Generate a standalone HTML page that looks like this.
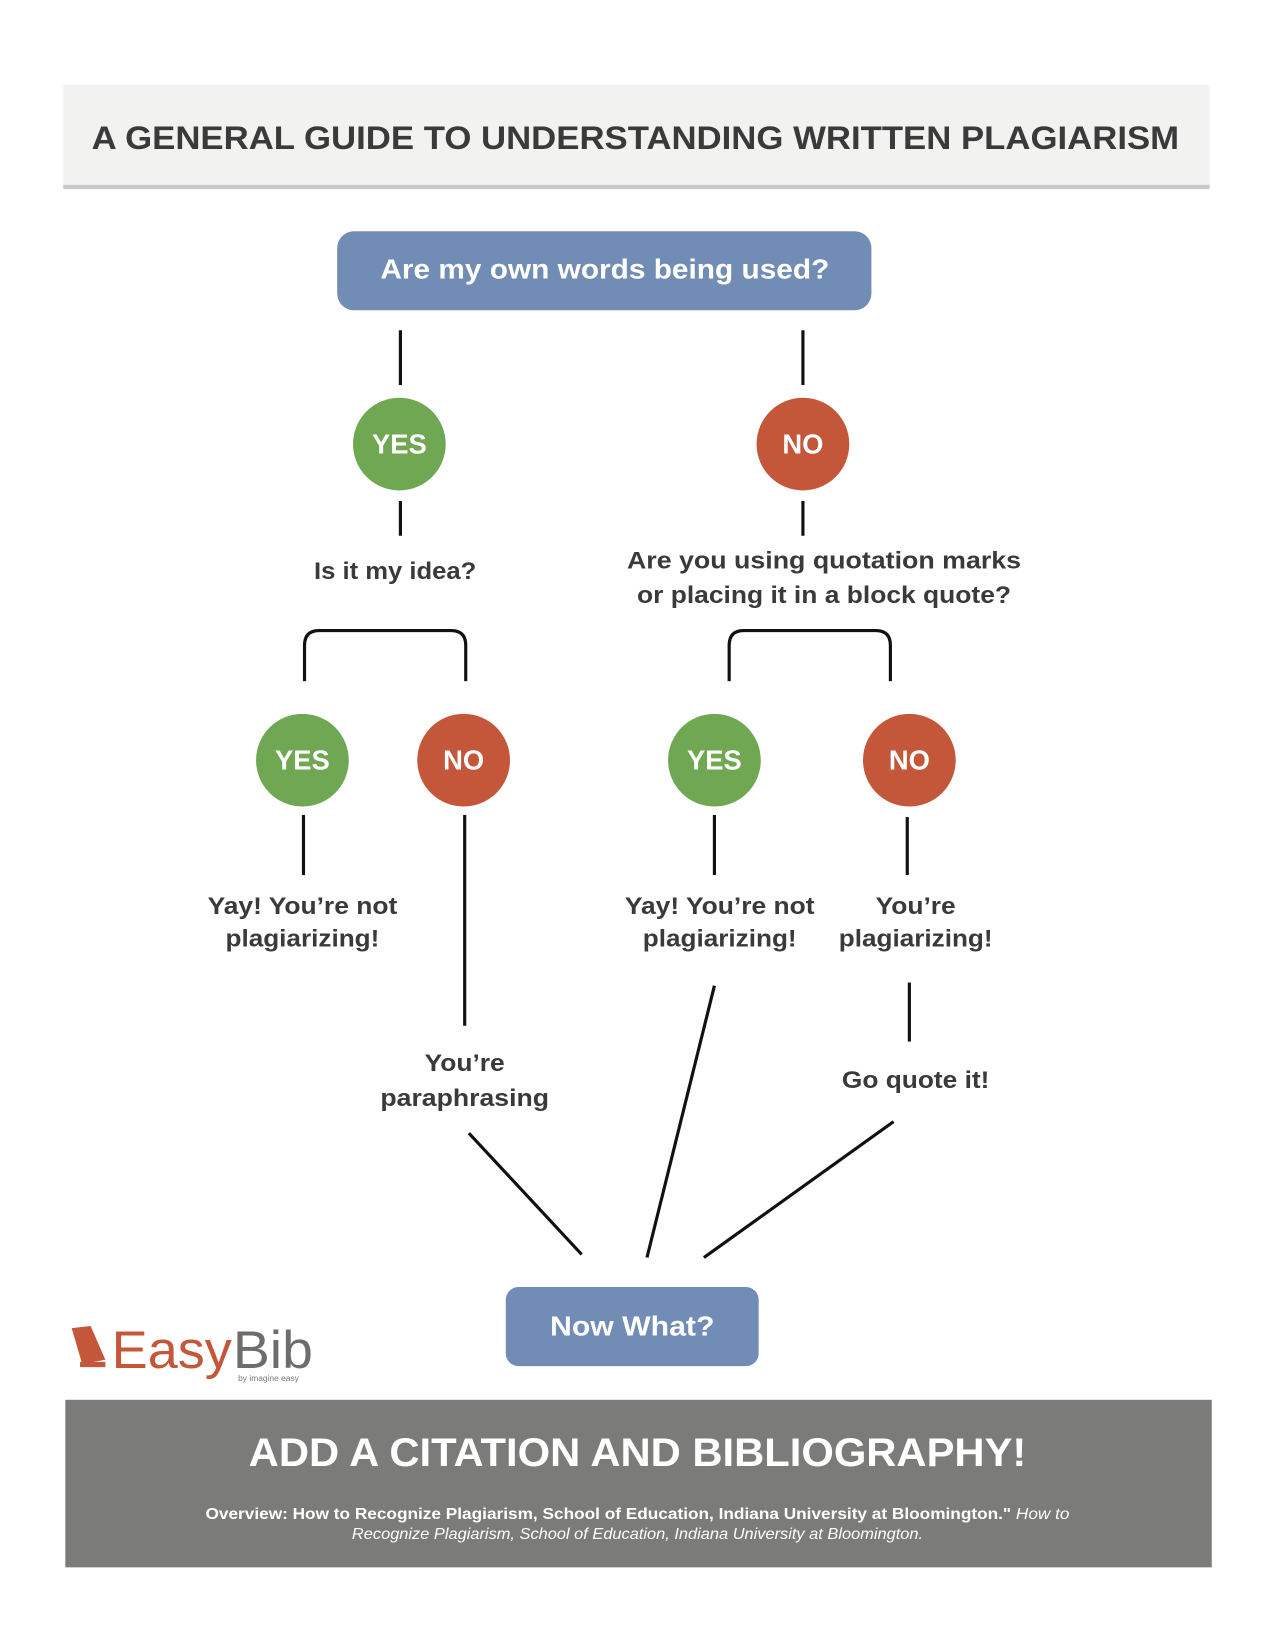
<!DOCTYPE html>
<html><head><meta charset="utf-8"><style>
html,body{margin:0;padding:0;background:#fff;}
svg{display:block;}
text{font-family:"Liberation Sans",sans-serif;font-weight:bold;}
</style></head><body>
<svg width="1275" height="1650" viewBox="0 0 1210 1565" xmlns="http://www.w3.org/2000/svg">
<rect x="60" y="80" width="1088" height="96" fill="#f2f2f0"/>
<rect x="60" y="175" width="1088" height="4" fill="#c8c8c8"/>
<text x="603" y="141" font-size="31" fill="#3a3a3a" text-anchor="middle" textLength="1032" lengthAdjust="spacingAndGlyphs">A GENERAL GUIDE TO UNDERSTANDING WRITTEN PLAGIARISM</text>

<rect x="320" y="219" width="507" height="75" rx="16" fill="#728db5"/>
<text x="574" y="264" font-size="26" fill="#fff" text-anchor="middle" textLength="426" lengthAdjust="spacingAndGlyphs">Are my own words being used?</text>

<g stroke="#111" stroke-width="3" fill="none">
<line x1="380" y1="313" x2="380" y2="365"/>
<line x1="762" y1="313" x2="762" y2="365"/>
<line x1="380" y1="475" x2="380" y2="508"/>
<line x1="762" y1="475" x2="762" y2="508"/>
<path d="M289 646 V612 Q289 598 303 598 H428 Q442 598 442 612 V646"/>
<path d="M692 646 V612 Q692 598 706 598 H831 Q845 598 845 612 V646"/>
<line x1="288" y1="773" x2="288" y2="830"/>
<line x1="441" y1="773" x2="441" y2="973"/>
<line x1="678" y1="773" x2="678" y2="830"/>
<line x1="861" y1="775" x2="861" y2="830"/>
<line x1="863" y1="932" x2="863" y2="988"/>
<line x1="445" y1="1075" x2="552" y2="1190"/>
<line x1="678" y1="935" x2="614" y2="1193"/>
<line x1="848" y1="1064" x2="668" y2="1193"/>
</g>

<g font-size="26" fill="#fff" text-anchor="middle">
<circle cx="379" cy="421" r="44" fill="#6fa752"/><text x="379" y="430">YES</text>
<circle cx="762" cy="421" r="44" fill="#c4573a"/><text x="762" y="430">NO</text>
<circle cx="287" cy="721" r="44" fill="#6fa752"/><text x="287" y="730">YES</text>
<circle cx="440" cy="721" r="44" fill="#c4573a"/><text x="440" y="730">NO</text>
<circle cx="678" cy="721" r="44" fill="#6fa752"/><text x="678" y="730">YES</text>
<circle cx="863" cy="721" r="44" fill="#c4573a"/><text x="863" y="730">NO</text>
</g>

<g font-size="23" fill="#3a3a3a" text-anchor="middle">
<text x="375" y="549" textLength="154" lengthAdjust="spacingAndGlyphs">Is it my idea?</text>
<text x="782" y="539" textLength="374" lengthAdjust="spacingAndGlyphs">Are you using quotation marks</text>
<text x="782" y="572" textLength="355" lengthAdjust="spacingAndGlyphs">or placing it in a block quote?</text>
<text x="287" y="867" textLength="180" lengthAdjust="spacingAndGlyphs">Yay! You’re not</text>
<text x="287" y="898" textLength="146" lengthAdjust="spacingAndGlyphs">plagiarizing!</text>
<text x="683" y="867" textLength="180" lengthAdjust="spacingAndGlyphs">Yay! You’re not</text>
<text x="683" y="898" textLength="146" lengthAdjust="spacingAndGlyphs">plagiarizing!</text>
<text x="869" y="867" textLength="76" lengthAdjust="spacingAndGlyphs">You’re</text>
<text x="869" y="898" textLength="146" lengthAdjust="spacingAndGlyphs">plagiarizing!</text>
<text x="441" y="1016" textLength="76" lengthAdjust="spacingAndGlyphs">You’re</text>
<text x="441" y="1049" textLength="160" lengthAdjust="spacingAndGlyphs">paraphrasing</text>
<text x="869" y="1032" textLength="140" lengthAdjust="spacingAndGlyphs">Go quote it!</text>
</g>

<rect x="480" y="1221" width="240" height="75" rx="12" fill="#728db5"/>
<text x="600" y="1267" font-size="26" fill="#fff" text-anchor="middle" textLength="156" lengthAdjust="spacingAndGlyphs">Now What?</text>

<path d="M68 1260 L86 1258 L100 1290 L78 1294 Z" fill="#c4573a"/>
<rect x="76" y="1292" width="24" height="5" fill="#c4573a"/>
<text x="106" y="1298" font-size="50" fill="#c4573a" style="font-weight:normal" textLength="114" lengthAdjust="spacingAndGlyphs">Easy</text>
<text x="221" y="1298" font-size="50" fill="#6d6d6d" style="font-weight:normal" textLength="76" lengthAdjust="spacingAndGlyphs">Bib</text>
<text x="226" y="1310" font-size="8" fill="#777" style="font-weight:normal">by imagine easy</text>

<rect x="62" y="1328" width="1088" height="159" fill="#7b7b79"/>
<text x="605" y="1391" font-size="38" fill="#fff" text-anchor="middle" textLength="738" lengthAdjust="spacingAndGlyphs">ADD A CITATION AND BIBLIOGRAPHY!</text>
<text x="605" y="1441" font-size="15" fill="#fff" text-anchor="middle" textLength="820" lengthAdjust="spacingAndGlyphs">Overview: How to Recognize Plagiarism, School of Education, Indiana University at Bloomington." <tspan font-style="italic" style="font-weight:normal">How to</tspan></text>
<text x="605" y="1460" font-size="15" fill="#fff" text-anchor="middle" font-style="italic" style="font-weight:normal" textLength="542" lengthAdjust="spacingAndGlyphs">Recognize Plagiarism, School of Education, Indiana University at Bloomington.</text>
</svg>
</body></html>
